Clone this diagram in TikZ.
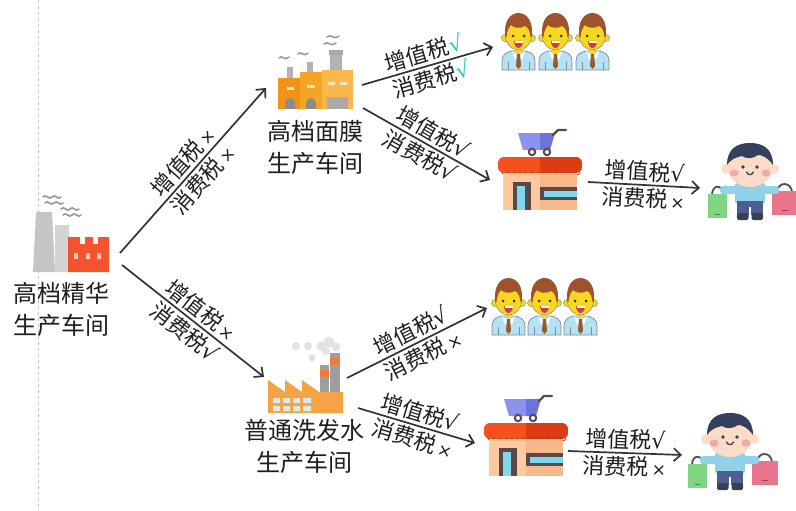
\documentclass[tikz,border=0pt]{standalone}
\usepackage{fontspec}
\setmainfont{Noto Sans CJK SC}
\newfontfamily\symf{DejaVu Sans}
\usetikzlibrary{arrows.meta}

% tick and cross marks in a narrow symbol face
\newcommand{\ckm}{{\symf √}}
\newcommand{\xmk}{{\symf\fontsize{17}{17}\selectfont\,×}}

\definecolor{arrowc}{HTML}{333333}
\definecolor{textc}{HTML}{1F1F1F}
\definecolor{dashc}{HTML}{C4C4C4}
\definecolor{okteal}{HTML}{35C7B6}
% left factory
\definecolor{smoke}{HTML}{9A9A9A}
\definecolor{chimA}{HTML}{C5C5C5}
\definecolor{chimB}{HTML}{D4D4D4}
\definecolor{facred}{HTML}{F3532F}
\definecolor{winpink}{HTML}{F9C4B6}
% orange factory
\definecolor{orA}{HTML}{EF9418}
\definecolor{orB}{HTML}{F6A424}
\definecolor{orC}{HTML}{FBB74A}
\definecolor{orwin}{HTML}{FDE3B8}
\definecolor{dgray}{HTML}{8C8C8C}
\definecolor{lgray}{HTML}{A9A9A9}
\definecolor{cgray}{HTML}{B3B3B3}
% saw-tooth factory
\definecolor{orF}{HTML}{F6A346}
\definecolor{chimG}{HTML}{9E9E9E}
\definecolor{band}{HTML}{F37A3A}
\definecolor{winF}{HTML}{D5ECEF}
\definecolor{smokeL}{HTML}{E2E2E2}
% workers
\definecolor{whair}{HTML}{A0522D}
\definecolor{wface}{HTML}{F8D81F}
\definecolor{wshirt}{HTML}{B4E3F5}
\definecolor{woutline}{HTML}{7D8B96}
\definecolor{wtie}{HTML}{9B5A2E}
\definecolor{wmouth}{HTML}{D63B3B}
% shop
\definecolor{cartL}{HTML}{8A93EE}
\definecolor{cartD}{HTML}{6B73DD}
\definecolor{shopbrown}{HTML}{5B4848}
\definecolor{awnL}{HTML}{F4511E}
\definecolor{awnD}{HTML}{DC3C12}
\definecolor{bldL}{HTML}{FDCAA0}
\definecolor{bldD}{HTML}{F7B98C}
\definecolor{glass}{HTML}{7FD6EF}
% shopper
\definecolor{khair}{HTML}{33405E}
\definecolor{kskin}{HTML}{FCDCC6}
\definecolor{kcheek}{HTML}{F6A5AB}
\definecolor{kshirt}{HTML}{92D2E8}
\definecolor{kpants}{HTML}{4D5F91}
\definecolor{kshoe}{HTML}{3A3F55}
\definecolor{bagG}{HTML}{7FD581}
\definecolor{bagP}{HTML}{E9758D}
\definecolor{khandle}{HTML}{4D4D4D}

\tikzset{
  worker/.pic={
    \filldraw[fill=wshirt, draw=woutline, line width=0.7pt]
      (2,58) -- (2,49) .. controls (2,43) and (6,40) .. (12,39) -- (25,39)
      .. controls (31,40) and (35,43) .. (35,49) -- (35,58) -- cycle;
    \draw[woutline, line width=0.7pt] (8,50) -- (8,58) (29,50) -- (29,58);
    \fill[wface] (15,32) rectangle (22,41);
    \fill[white] (12,39) -- (18.5,44) -- (15,48) -- cycle;
    \fill[white] (25,39) -- (18.5,44) -- (22,48) -- cycle;
    \fill[wtie] (17,42) -- (20,42) -- (21,54) -- (18.5,57) -- (16,54) -- cycle;
    \filldraw[fill=wface, draw=woutline, line width=0.5pt] (5,26) circle (3.5) (32,26) circle (3.5);
    \filldraw[fill=wface, draw=woutline, line width=0.5pt] (18.5,24) ellipse [x radius=13, y radius=14];
    \fill[whair] (5.5,25) .. controls (3,10) and (10,1) .. (18.5,1)
      .. controls (27,1) and (34,10) .. (31.5,25) -- (30.5,25)
      .. controls (30,19) and (28,15) .. (25,14) .. controls (20,17) and (14,16) .. (11,13)
      .. controls (8,16) and (7,20) .. (6.5,25) -- cycle;
    \fill[black!80] (13,24) circle (1.5) (24,24) circle (1.5);
    \fill[wmouth] (14,29) -- (23,29) .. controls (23,34) and (20,36) .. (18.5,36)
      .. controls (17,36) and (14,34) .. (14,29) -- cycle;
    \fill[white] (14.5,29) rectangle (22.5,30.6);
  },
  shop/.pic={
    % cart
    \fill[cartL] (20,5) -- (42,5) -- (42,22) -- (25,22) -- cycle;
    \fill[cartD] (42,5) -- (57,5) -- (52,22) -- (42,22) -- cycle;
    \draw[shopbrown, line width=2.2pt, line cap=round] (55,7) -- (60,2) -- (68,2);
    \filldraw[fill=white, draw=shopbrown, line width=2pt] (34,24) circle (3.2) (49,24) circle (3.2);
    % awning
    \begin{scope}
      \clip[rounded corners=6pt] (0,29) rectangle (84,45);
      \fill[awnL] (0,29) rectangle (42,45);
      \fill[awnD] (42,29) rectangle (84,45);
    \end{scope}
    \draw[awnD!70!black, line width=0.6pt]
      (4,44) \foreach \i in {0,...,12} { arc[start angle=180, end angle=0, radius=3] };
    % building
    \fill[bldL] (5,45) rectangle (42,82);
    \fill[bldD] (42,45) rectangle (79,82);
    \fill[shopbrown] (15,54) rectangle (33,82);
    \fill[glass] (18.5,57.5) rectangle (27,82);
    \fill[shopbrown] (42,59) rectangle (79,72);
    \fill[glass] (45.5,62.5) rectangle (79,69);
  },
  shopper/.pic={
    % bags
    \draw[khandle, line width=1.8pt] (4,52) .. controls (4,41) and (15,41) .. (15,52);
    \fill[bagG] (0,51) rectangle (19,75);
    \draw[bagG!60!black, line width=0.8pt] (7,71) -- (12,71);
    \draw[khandle, line width=1.8pt] (69,50) .. controls (69,38) and (84,38) .. (84,50);
    \fill[bagP] (64,48) rectangle (90,72);
    \draw[bagP!60!black, line width=0.8pt] (74,67) -- (80,67);
    % body
    \fill[kshirt, rounded corners=3pt] (12,43) rectangle (71,51);
    \fill[kshirt, rounded corners=3pt] (27,39) rectangle (57,61);
    \fill[kpants] (29,58) rectangle (55,72);
    \fill[white] (41.3,64) rectangle (42.7,72);
    \fill[kshoe, rounded corners=2pt] (29,70) rectangle (40.5,77);
    \fill[kshoe, rounded corners=2pt] (43.5,70) rectangle (55,77);
    % head
    \fill[kskin] (18,26) circle (5) (66,26) circle (5);
    \fill[kskin] (42,23) ellipse [x radius=23, y radius=21];
    \fill[khair] (19,22) .. controls (19,5) and (30,0) .. (42,0)
      .. controls (54,0) and (65,5) .. (65,22) .. controls (60,15) and (55,12) .. (50,12)
      .. controls (45,16) and (38,16) .. (34,13) .. controls (28,14) and (22,17) .. (19,22) -- cycle;
    \fill[kcheek] (26,30) ellipse [x radius=4.5, y radius=3.5] (58,30) ellipse [x radius=4.5, y radius=3.5];
    \fill[khair] (35,24) circle (1.8) (49,24) circle (1.8);
    \draw[khair, line width=1.3pt, line cap=round] (38.5,29) .. controls (40,32.5) and (44,32.5) .. (45.5,29);
  }
}

\begin{document}
\begin{tikzpicture}[x=1pt, y=-1pt,
  box/.style={draw=none, rectangle, inner sep=0pt, outer sep=0pt, anchor=north west},
  lbl/.style={text=textc, font=\fontsize{24}{32}\selectfont, align=center, inner sep=0pt},
  tax/.style={text=textc, font=\fontsize{22}{24}\selectfont, inner sep=1pt, sloped},
  arr/.style={draw=arrowc, line width=1.7pt, -{Straight Barb[length=7pt,width=13pt]}},
  wisp/.style={draw=smoke, line width=1.6pt, line cap=round}]

\useasboundingbox (0,0) rectangle (796,511);
\fill[white] (0,0) rectangle (796,511);

% guide line on the left
\draw[dashc, line width=0.8pt, dash pattern=on 3pt off 3pt] (38,0) -- (38,511);

% ---------- premium essence workshop ----------
\node[box, minimum width=78pt, minimum height=78pt] (f0) at (32,195) {};
\draw[wisp] (43,197) .. controls (46,193) and (49,201) .. (52,197) .. controls (55,193) and (58,201) .. (61,197);
\draw[wisp] (45,203) .. controls (48,199) and (51,207) .. (54,203) .. controls (57,199) and (60,207) .. (63,203);
\draw[wisp] (61,209) .. controls (64,205) and (67,213) .. (70,209) .. controls (73,205) and (76,213) .. (79,209);
\draw[wisp] (63,215) .. controls (66,211) and (69,219) .. (72,215) .. controls (75,211) and (78,219) .. (81,215);
\fill[chimA] (33,272) -- (36,212) -- (52,212) -- (55,272) -- cycle;
\fill[chimB] (55,272) -- (55,225) -- (69,225) -- (70,272) -- cycle;
\fill[facred] (68,272) -- (68,237) -- (80,237) -- (80,244) -- (85,244) -- (85,237) -- (93,237)
  -- (93,244) -- (98,244) -- (98,237) -- (109,237) -- (109,272) -- cycle;
\fill[winpink] (74,253) rectangle (78,259) (86,253) rectangle (90,259) (97,253) rectangle (101,259);
\node[lbl] (l0) at (61,309) {高档精华\\生产车间};

% ---------- face-mask workshop ----------
\node[box, minimum width=76pt, minimum height=77pt] (f1) at (278,33) {};
\draw[wisp] (279,58) .. controls (282,54) and (285,62) .. (289,57);
\draw[wisp] (298,54) .. controls (301,50) and (304,58) .. (308,53);
\draw[wisp] (324,44) .. controls (328,40) and (332,48) .. (336,43);
\draw[wisp] (327,37) .. controls (331,33) and (335,41) .. (339,36);
\fill[cgray] (287,67) rectangle (293,78);
\fill[cgray] (307,62) rectangle (313,72);
\fill[cgray] (330,52) rectangle (342,70);
\fill[lgray] (329,50) rectangle (343,55);
\fill[orA] (278,78) rectangle (300,109);
\fill[orB] (300,72) rectangle (322,109);
\fill[orC] (322,70) rectangle (353,109);
\fill[orwin] (287,87) rectangle (294,90) (307,85) rectangle (315,88)
  (328,82) rectangle (335,85) (340,82) rectangle (347,85);
\fill[dgray] (285,109) -- (285,103) arc[start angle=180, end angle=360, radius=5] -- (295,109) -- cycle;
\fill[dgray] (306,109) -- (306,103) arc[start angle=180, end angle=360, radius=5] -- (316,109) -- cycle;
\fill[lgray] (327,97) rectangle (348,109);
\node[lbl] (l1) at (315,147.5) {高档面膜\\生产车间};

% ---------- shampoo workshop ----------
\node[box, minimum width=75pt, minimum height=75pt] (f2) at (268,338) {};
\fill[smokeL] (296,346) circle (4) (308,346) circle (4) (312,358) circle (3.5)
  (321,346) circle (4.5) (329,342) circle (5.5) (336,347) circle (4.5) (326,351) circle (4);
\fill[chimG] (320,365) rectangle (329,393);
\fill[band] (320,370) rectangle (329,377);
\fill[chimG] (330,353) rectangle (340,393);
\fill[band] (330,358) rectangle (340,365);
\fill[orF] (268,413) -- (268,380) -- (285,392) -- (285,380) -- (302,392) -- (302,380)
  -- (319,392) -- (343,392) -- (343,413) -- cycle;
\fill[winF] (273,398) rectangle (280,403) (283,398) rectangle (290,403)
  (293,398) rectangle (300,403) (303,398) rectangle (311,403)
  (273,406) rectangle (280,411) (283,406) rectangle (290,411)
  (293,406) rectangle (300,411) (303,406) rectangle (311,411);
\node[lbl] (l2) at (304,446.5) {普通洗发水\\生产车间};

% ---------- workers, shops and shoppers ----------
\node[box, minimum width=110pt, minimum height=58pt] (m1) at (500,12) {};
\pic at (500,12) {worker};
\pic at (537,12) {worker};
\pic at (574,12) {worker};
\node[box, minimum width=108pt, minimum height=58pt] (m2) at (490,277) {};
\pic at (490,277) {worker};
\pic at (526,277) {worker};
\pic at (562,277) {worker};

\node[box, minimum width=84pt, minimum height=82pt] (s1) at (498,128) {};
\pic at (498,128) {shop};
\node[box, minimum width=84pt, minimum height=82pt] (s2) at (484,394) {};
\pic at (484,394) {shop};

\node[box, minimum width=90pt, minimum height=78pt] (k1) at (708,143) {};
\pic at (708,143) {shopper};
\node[box, minimum width=90pt, minimum height=78pt] (k2) at (688,413) {};
\pic at (688,413) {shopper};

% ---------- flows with tax labels ----------
\draw[arr] ([shift={(10,-20)}]f0.south east) -- ([shift={(-12,-22)}]f1.south west)
  node[tax, midway, above=1.5pt] {增值税\xmk} node[tax, midway, below=1.5pt] {消费税\xmk};
\draw[arr] ([shift={(12,-8)}]f0.south east) -- ([shift={(-4,1.5)}]f2.west)
  node[tax, midway, above=1.5pt] {增值税\xmk} node[tax, midway, below=1.5pt] {消费税\ckm};

\draw[arr] ([shift={(8,-25)}]f1.south east) -- ([shift={(-7,6)}]m1.west)
  node[tax, midway, above=1.5pt] {增值税\textcolor{okteal}{\ckm}} node[tax, midway, below=1.5pt] {消费税\textcolor{okteal}{\ckm}};
\draw[arr] ([shift={(9,-2)}]f1.south east) -- ([shift={(-8,11)}]s1.west)
  node[tax, midway, above=1.5pt] {增值税\ckm} node[tax, midway, below=1.5pt] {消费税\ckm};
\draw[arr] ([shift={(6,13)}]s1.east) -- ([shift={(-8,6)}]k1.west)
  node[tax, midway, above=1.5pt] {增值税\ckm} node[tax, midway, below=1.5pt] {消费税\xmk};

\draw[arr] ([shift={(4,2.5)}]f2.east) -- ([shift={(-3,2)}]m2.west)
  node[tax, midway, above=1.5pt] {增值税\ckm} node[tax, midway, below=1.5pt] {消费税\xmk};
\draw[arr] ([shift={(15,-5)}]f2.south east) -- ([shift={(-9,8)}]s2.west)
  node[tax, midway, above=1.5pt] {增值税\ckm} node[tax, midway, below=1.5pt] {消费税\xmk};
\draw[arr] ([shift={(0,16)}]s2.east) -- ([shift={(-6,3)}]k2.west)
  node[tax, midway, above=1.5pt] {增值税\ckm} node[tax, midway, below=1.5pt] {消费税\xmk};

\end{tikzpicture}
\end{document}
